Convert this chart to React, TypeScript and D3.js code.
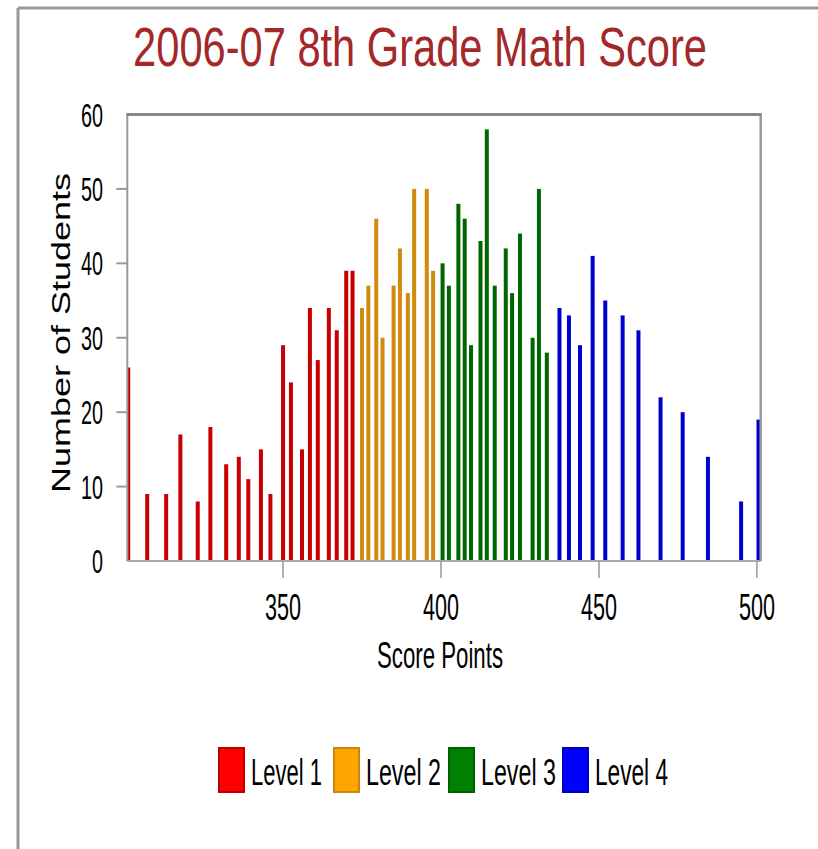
import React from "react";
import * as d3 from "d3";

const title = "2006-07 8th Grade Math Score";
const xTitle = "Score Points";
const yTitle = "Number of Students";
const levelNames = ["Level 1", "Level 2", "Level 3", "Level 4"];

const level1Scores = [301, 307, 313, 317.5, 323, 327, 332, 336, 339, 343, 346, 350, 352.5, 356, 358.5, 361, 364.5, 367, 370, 372];
const level1Counts = [26, 9, 9, 17, 8, 18, 13, 14, 11, 15, 9, 29, 24, 15, 34, 27, 34, 31, 39, 39];
const level2Scores = [375, 377, 379.5, 381.5, 385, 387, 389.5, 391.5, 395.5, 397.5];
const level2Counts = [34, 37, 46, 30, 37, 42, 36, 50, 50, 39];
const level3Scores = [400.5, 402.5, 405.5, 407.5, 409.5, 412.5, 414.5, 417, 420.5, 422.5, 425, 429, 431, 433.5];
const level3Counts = [40, 37, 48, 46, 29, 43, 58, 37, 42, 36, 44, 30, 50, 28];
const level4Scores = [437.5, 440.5, 444, 448, 452, 457.5, 462.5, 469.5, 476.5, 484.5, 495, 500.5];
const level4Counts = [34, 33, 29, 41, 35, 33, 31, 22, 20, 14, 8, 19];

const xTicks = [350, 400, 450, 500];
const yTicks = [0, 10, 20, 30, 40, 50, 60];

const barColors = ["#c80000", "#d08a0e", "#006600", "#0000cc"];
const swatchFill = ["#ff0000", "#ffa500", "#008000", "#0000ff"];
const swatchStroke = ["#c00000", "#c8860a", "#006000", "#0000c0"];

const FONT = "'Liberation Sans', Arial, sans-serif";

export default function App() {
  const W = 818, H = 849;
  const left = 127.3, right = 760.7, top = 114.5, bottom = 561;
  const x = d3.scaleLinear().domain([300.7, 501.2]).range([left, right]);
  const y = d3.scaleLinear().domain([0, 60]).range([bottom, top]);

  const series = [
    { scores: level1Scores, counts: level1Counts },
    { scores: level2Scores, counts: level2Counts },
    { scores: level3Scores, counts: level3Counts },
    { scores: level4Scores, counts: level4Counts },
  ];
  const barW = 4;

  const legendX = [218, 333, 448, 562];
  const legendTextW = [71, 75, 75, 73];

  return (
    <svg width={W} height={H} style={{ position: "absolute", left: 0, top: 0, background: "#fff" }}>
      <defs>
        <clipPath id="plotClip">
          <rect x={left} y={top} width={right - left} height={bottom - top} />
        </clipPath>
      </defs>
      {/* outer frame */}
      <line x1={18} y1={8} x2={818} y2={8} stroke="#999" strokeWidth={3} />
      <line x1={18} y1={8} x2={18} y2={849} stroke="#999" strokeWidth={3} />

      {/* title */}
      <text transform="translate(420,66) scale(0.757,1)" x={0} y={0} fill="#a3282a" fontFamily={FONT}
        fontSize={55} textAnchor="middle">{title}</text>

      {/* bars */}
      <g clipPath="url(#plotClip)">
        {series.map((s, si) =>
          s.scores.map((sc, i) => (
            <rect key={`${si}-${i}`} x={x(sc) - barW / 2} y={y(s.counts[i])} width={barW}
              height={bottom - y(s.counts[i])} fill={barColors[si]} />
          ))
        )}
      </g>

      {/* plot frame */}
      <line x1={left} y1={bottom} x2={right} y2={bottom} stroke="#aaa" strokeWidth={2} />
      <line x1={left} y1={top} x2={left} y2={bottom} stroke="#999" strokeWidth={2} />
      <line x1={right} y1={top} x2={right} y2={bottom} stroke="#999" strokeWidth={2.5} />
      <line x1={left - 1} y1={top} x2={right + 1} y2={top} stroke="#888" strokeWidth={3} />

      {/* y ticks */}
      {yTicks.map((t) => (
        <g key={`y${t}`}>
          {t > 0 && t < 60 && (
            <line x1={left - 11} x2={left} y1={y(t)} y2={y(t)} stroke="#999" strokeWidth={2} />
          )}
          <text x={103} y={y(t) + 12} fill="#000" fontFamily={FONT} fontSize={34}
            textAnchor="end" textLength={String(t).length * 11} lengthAdjust="spacingAndGlyphs">{t}</text>
        </g>
      ))}

      {/* x ticks */}
      {xTicks.map((t) => (
        <g key={`x${t}`}>
          <line x1={x(t)} x2={x(t)} y1={bottom} y2={bottom + 17} stroke="#999" strokeWidth={1.5} />
          <text x={x(t) - 18} y={620} fill="#000" fontFamily={FONT} fontSize={36}
            textLength={36} lengthAdjust="spacingAndGlyphs">{t}</text>
        </g>
      ))}

      {/* axis titles */}
      <text x={377} y={668} fill="#000" fontFamily={FONT} fontSize={36}
        textLength={126} lengthAdjust="spacingAndGlyphs">{xTitle}</text>
      <text transform={`translate(70,493) rotate(-90)`} x={0} y={0} fill="#000" fontFamily={FONT}
        fontSize={25} textLength={320} lengthAdjust="spacingAndGlyphs">{yTitle}</text>

      {/* legend */}
      {levelNames.map((name, i) => (
        <g key={name}>
          <rect x={legendX[i] + 1} y={748} width={25} height={44} fill={swatchFill[i]}
            stroke={swatchStroke[i]} strokeWidth={2} />
          <text x={legendX[i] + 33} y={785} fill="#000" fontFamily={FONT} fontSize={37}
            textLength={legendTextW[i]} lengthAdjust="spacingAndGlyphs">{name}</text>
        </g>
      ))}
    </svg>
  );
}
